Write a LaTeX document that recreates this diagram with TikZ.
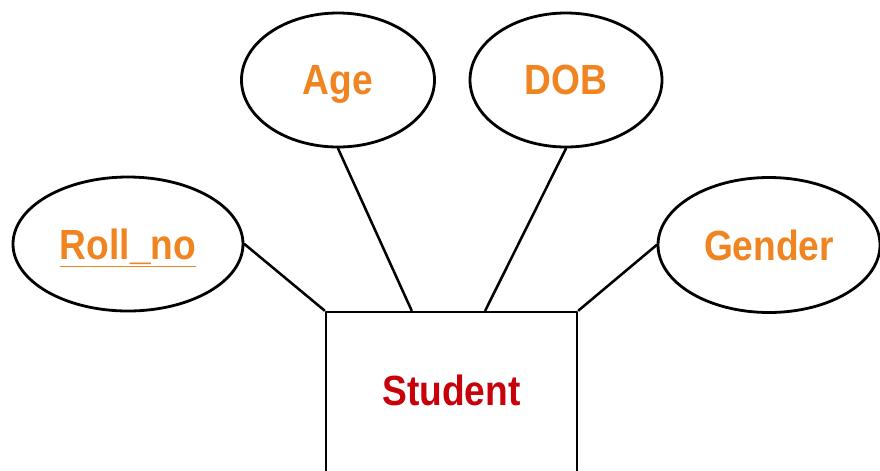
\documentclass[tikz,border=0pt]{standalone}
\usepackage{fontspec}
\setmainfont[FakeStretch=0.88]{Liberation Sans}
\usetikzlibrary{shapes.geometric,calc}
\definecolor{attrorange}{RGB}{240,132,32}
\definecolor{entred}{RGB}{200,0,10}
\tikzset{
	attr/.style={draw, ellipse, line width=2pt, inner sep=0pt, text depth=0pt, text=attrorange,
		font=\fontsize{30}{32}\selectfont\bfseries},
	entity/.style={draw, rectangle, line width=2.1pt, inner sep=0pt, text depth=0.3cm, text=entred,
		minimum width=251*0.025cm, minimum height=168*0.025cm, font=\fontsize{30}{32}\selectfont\bfseries},
	link/.style={line width=1.8pt}
}
\begin{document}
\begin{tikzpicture}[x=0.025cm, y=-0.025cm, line join=round, line cap=round]
	\useasboundingbox (0,0) rectangle (880,470);
	\clip (0,0) rectangle (880,470);
	% entity
	\node[entity] (student) at (451.5,396) {Student};
	% attributes
	\node[attr, minimum width=193*0.025cm, minimum height=134*0.025cm] (age) at (338,80) {Age};
	\node[attr, minimum width=192*0.025cm, minimum height=134*0.025cm] (dob) at (566,80) {DOB};
	\node[attr, minimum width=230*0.025cm, minimum height=134*0.025cm] (roll) at (128,244) {\underline{Roll\_no}};
	\node[attr, minimum width=222*0.025cm, minimum height=135*0.025cm] (gender) at (769,245) {Gender};
	% links
	\draw[link] (roll.east) -- (student.north west);
	\draw[link] (age.south) -- ($(student.north west)!0.343!(student.north east)$);
	\draw[link] (dob.south) -- ($(student.north west)!0.633!(student.north east)$);
	\draw[link] (gender.west) -- (student.north east);
\end{tikzpicture}
\end{document}
